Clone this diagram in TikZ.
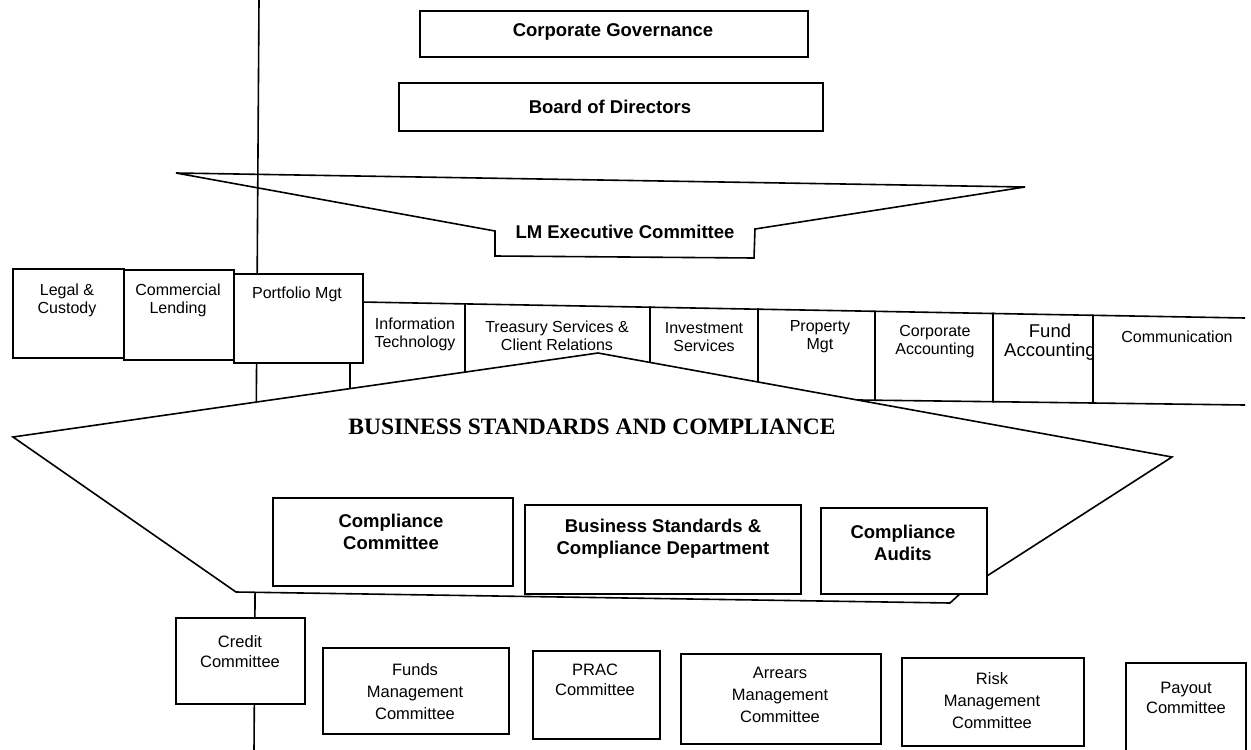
\documentclass[tikz,border=0pt]{standalone}
\usepackage{fontspec}
\setmainfont{Liberation Sans}
\newfontfamily\titlefont{Liberation Serif}
\begin{document}
\begin{tikzpicture}[x=1pt,y=-1pt,
  ln/.style={line width=1.6pt, line join=miter},
  bx/.style={ln, draw, fill=white, rectangle, inner sep=0pt, anchor=north west},
  rt/.style={font=\fontsize{16}{18}\selectfont, align=center, inner sep=0pt},
  bt/.style={font=\fontsize{18.5}{22}\selectfont\bfseries, align=center, inner sep=0pt},
  ct/.style={font=\fontsize{16.5}{22}\selectfont, align=center, inner sep=0pt},
  poly/.style={ln, draw, fill=white}]
\fill[white] (0,0) rectangle (1251,750);
\useasboundingbox (0,0) rectangle (1251,750);

% vertical spine
\coordinate (vtop) at (259,0);
\coordinate (vbot) at (254,752);
\draw[ln] (vtop) -- (vbot);

% top boxes
\node[bx, minimum width=388, minimum height=46] (cg) at (419,10) {};
\node[bt] (cgt) at (613,32) {Corporate Governance};
\node[bx, minimum width=424, minimum height=48] (bd) at (398,82) {};
\node[bt] (bdt) at (610,107) {Board of Directors};

% LM executive committee
\draw[ln] (176,173) -- (1025,187) -- (755,229) -- (754,258) -- (495,256) -- (495,231) -- cycle;
\node[bt] (lmt) at (625,232) {LM Executive Committee};

% strip of departments
\draw[poly] (350,301.8) -- (465,303.9) -- (465,394.9) -- (350,393.4) -- cycle;
\draw[poly] (465,303.9) -- (650,307.2) -- (650,397.3) -- (465,394.9) -- cycle;
\draw[poly] (650,307.2) -- (758,309.2) -- (758,398.7) -- (650,397.3) -- cycle;
\draw[poly] (758,309.2) -- (875,311.3) -- (875,400.2) -- (758,398.7) -- cycle;
\draw[poly] (875,311.3) -- (993,313.5) -- (993,401.7) -- (875,400.2) -- cycle;
\draw[poly] (993,313.5) -- (1093,315.3) -- (1093,403) -- (993,401.7) -- cycle;
\draw[ln] (1245,318) -- (1093,315.3) -- (1093,403) -- (1245,405);
\node[rt] (itt) at (415,334) {Information\\Technology};
\node[rt] (tst) at (557,336) {Treasury Services \&\\Client Relations};
\node[rt] (ist) at (704,337) {Investment\\Services};
\node[rt] (pmt) at (820,337) {Property\\Mgt};
\node[rt] (cat) at (935,342) {Corporate\\Accounting};
\begin{scope}
  \clip (993,300) rectangle (1092,410);
  \node[rt, font=\fontsize{18.5}{19}\selectfont] (fat) at (1050,342) {Fund\\Accounting};
\end{scope}
\node[rt] (cmt) at (1177,337) {Communication};

% left boxes
\node[bx, minimum width=111, minimum height=89] (lc) at (12,268) {};
\node[rt, anchor=north] (lct) at (67,284) {Legal \&\\Custody};
\node[bx, minimum width=110, minimum height=90] (cl) at (123,269) {};
\node[rt, anchor=north] (clt) at (178,284) {Commercial\\Lending};
\node[bx, minimum width=129, minimum height=89] (pm) at (233,273) {};
\node[rt, anchor=north] (pmtt) at (297,287) {Portfolio Mgt};

% business standards and compliance
\draw[poly] (598,353) -- (1172,457) -- (962,592) -- (950,603) -- (236,592) -- (13,437) -- cycle;
\node[inner sep=0pt, font=\titlefont\bfseries\fontsize{23.5}{26}\selectfont] (bsc) at (592,427) {BUSINESS STANDARDS AND COMPLIANCE};
\node[bx, minimum width=240, minimum height=88] (cc) at (272,497) {};
\node[bt] (cct) at (391,532) {Compliance\\Committee};
\node[bx, minimum width=276, minimum height=89] (bs) at (524,504) {};
\node[bt] (bst) at (663,539) {Business Standards \&\\Compliance Department};
\node[bx, minimum width=166, minimum height=86] (ca) at (820,507) {};
\node[bt] (cat2) at (903,543) {Compliance\\Audits};

% committees
\node[bx, minimum width=129, minimum height=86] (crc) at (175,617) {};
\node[ct, font=\fontsize{16.5}{20}\selectfont] (crct) at (240,652) {Credit\\Committee};
\node[bx, minimum width=186, minimum height=86] (fmc) at (322,647) {};
\node[ct] (fmct) at (415,692) {Funds\\Management\\Committee};
\node[bx, minimum width=127, minimum height=88] (prc) at (532,650) {};
\node[ct, font=\fontsize{16.5}{20}\selectfont] (prct) at (595,680) {PRAC\\Committee};
\node[bx, minimum width=200, minimum height=90] (amc) at (680,653) {};
\node[ct] (amct) at (780,695) {Arrears\\Management\\Committee};
\node[bx, minimum width=182, minimum height=88] (rmc) at (901,657) {};
\node[ct] (rmct) at (992,701) {Risk\\Management\\Committee};
\node[bx, minimum width=120, minimum height=100] (poc) at (1125,662) {};
\node[ct, font=\fontsize{16.5}{20}\selectfont] (poct) at (1186,698) {Payout\\Committee};
\end{tikzpicture}
\end{document}
